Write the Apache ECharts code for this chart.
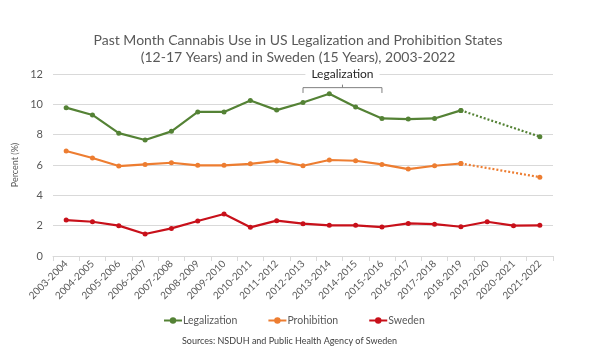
<!DOCTYPE html>
<html><head><meta charset="utf-8">
<script src="https://cdn.jsdelivr.net/npm/echarts@6/dist/echarts.min.js"></script>
<style>html,body{margin:0;padding:0;background:#fff}#c{width:596px;height:358px}</style>
</head><body><div id="c"></div>
<script>
const categories = ['2003-2004','2004-2005','2005-2006','2006-2007','2007-2008','2008-2009','2009-2010','2010-2011','2011-2012','2012-2013','2013-2014','2014-2015','2015-2016','2016-2017','2017-2018','2018-2019','2019-2020','2020-2021','2021-2022'];
const legalization = [9.78,9.3,8.1,7.65,8.22,9.5,9.5,10.25,9.62,10.12,10.7,9.82,9.07,9.03,9.07,9.6,null,null,null];
const legalizationProj = [null,null,null,null,null,null,null,null,null,null,null,null,null,null,null,9.6,null,null,7.87];
const prohibition = [6.92,6.46,5.93,6.04,6.15,5.98,5.98,6.08,6.27,5.95,6.33,6.28,6.04,5.73,5.95,6.1,null,null,null];
const prohibitionProj = [null,null,null,null,null,null,null,null,null,null,null,null,null,null,null,6.1,null,null,5.2];
const sweden = [2.37,2.26,2.0,1.45,1.82,2.31,2.77,1.89,2.33,2.13,2.02,2.02,1.91,2.15,2.1,1.93,2.26,2.0,2.02];
const yTicks = [0,2,4,6,8,10,12];
const bracketStart = '2012-2013', bracketEnd = '2015-2016', bracketLabel = 'Legalization';

const GREEN = '#548235', ORANGE = '#ED7D31', RED = '#C8101A';
const FONT = 'Lato';
const chart = echarts.init(document.getElementById('c'));
function lineSeries(name, data, color, dashed) {
  return {
    name: name, type: 'line', data: data, connectNulls: !!dashed,
    symbol: 'circle', symbolSize: 5, showSymbol: true,
    lineStyle: {color: color, width: 2.2, type: dashed ? [2, 2] : 'solid'},
    itemStyle: {color: color}, z: dashed ? 2 : 3, animation: false
  };
}
chart.setOption({
  animation: false,
  textStyle: {fontFamily: FONT},
  title: {
    text: 'Past Month Cannabis Use in US Legalization and Prohibition States\n(12-17 Years) and in Sweden (15 Years), 2003-2022',
    left: 'center', top: 27,
    textStyle: {fontSize: 14, fontWeight: 'normal', color: '#595959', lineHeight: 17, fontFamily: FONT}
  },
  grid: {left: 53, right: 43, top: 74, bottom: 102},
  legend: {
    data: [{name: 'Legalization'}, {name: 'Prohibition'}, {name: 'Sweden'}],
    bottom: 27, left: 158, itemGap: 30, itemWidth: 18, itemHeight: 8,
    textStyle: {fontSize: 10.5, color: '#595959', fontFamily: FONT, padding: [0,0,0,-4]}
  },
  xAxis: {
    type: 'category', data: categories, boundaryGap: true,
    axisLine: {lineStyle: {color: '#D9D9D9'}},
    axisTick: {show: true, alignWithLabel: false, lineStyle: {color: '#D9D9D9'}, length: 5},
    axisLabel: {rotate: 45, fontSize: 10, color: '#595959', interval: 0, margin: 6, fontFamily: FONT}
  },
  yAxis: {
    type: 'value', min: yTicks[0], max: yTicks[yTicks.length-1], interval: 2,
    name: 'Percent (%)', nameLocation: 'middle', nameGap: 26,
    nameTextStyle: {fontSize: 9, color: '#595959', fontFamily: FONT},
    axisLine: {show: false}, axisTick: {show: false},
    axisLabel: {fontSize: 11, color: '#595959', margin: 10, fontFamily: FONT},
    splitLine: {lineStyle: {color: '#D9D9D9', width: 1}}
  },
  series: [
    lineSeries('Legalization', legalization, GREEN, false),
    lineSeries('Prohibition', prohibition, ORANGE, false),
    lineSeries('Sweden', sweden, RED, false),
    Object.assign(lineSeries('LegalizationProj', legalizationProj, GREEN, true), {legendHoverLink:false}),
    Object.assign(lineSeries('ProhibitionProj', prohibitionProj, ORANGE, true), {legendHoverLink:false})
  ]
});
// bracket annotation, positioned through the chart's scales
const p1 = chart.convertToPixel({gridIndex: 0}, [bracketStart, 11.1]);
const p2 = chart.convertToPixel({gridIndex: 0}, [bracketEnd, 11.1]);
const pb = chart.convertToPixel({gridIndex: 0}, [bracketStart, 10.75]);
const pt = chart.convertToPixel({gridIndex: 0}, [bracketStart, 12]);
const mid = (p1[0] + p2[0]) / 2;
chart.setOption({
  graphic: [
    {type: 'polyline', shape: {points: [[p1[0], pb[1]], [p1[0], p1[1]], [p2[0], p1[1]], [p2[0], pb[1]]]},
     style: {stroke: '#7F7F7F', lineWidth: 1, fill: null}, z: 10},
    {type: 'line', shape: {x1: mid, y1: p1[1], x2: mid, y2: p1[1] - 3}, style: {stroke: '#7F7F7F', lineWidth: 1}, z: 10},
    {type: 'text', x: mid, y: pt[1], style: {text: bracketLabel, fontSize: 12, fill: '#262626', fontFamily: FONT,
      align: 'center', verticalAlign: 'middle', backgroundColor: '#fff', padding: [2, 6]}, z: 10},
    {type: 'text', left: 182, top: 337, style: {text: 'Sources: NSDUH and Public Health Agency of Sweden',
      fontSize: 9, fill: '#404040', fontFamily: FONT}, z: 10}
  ]
});
</script></body></html>
